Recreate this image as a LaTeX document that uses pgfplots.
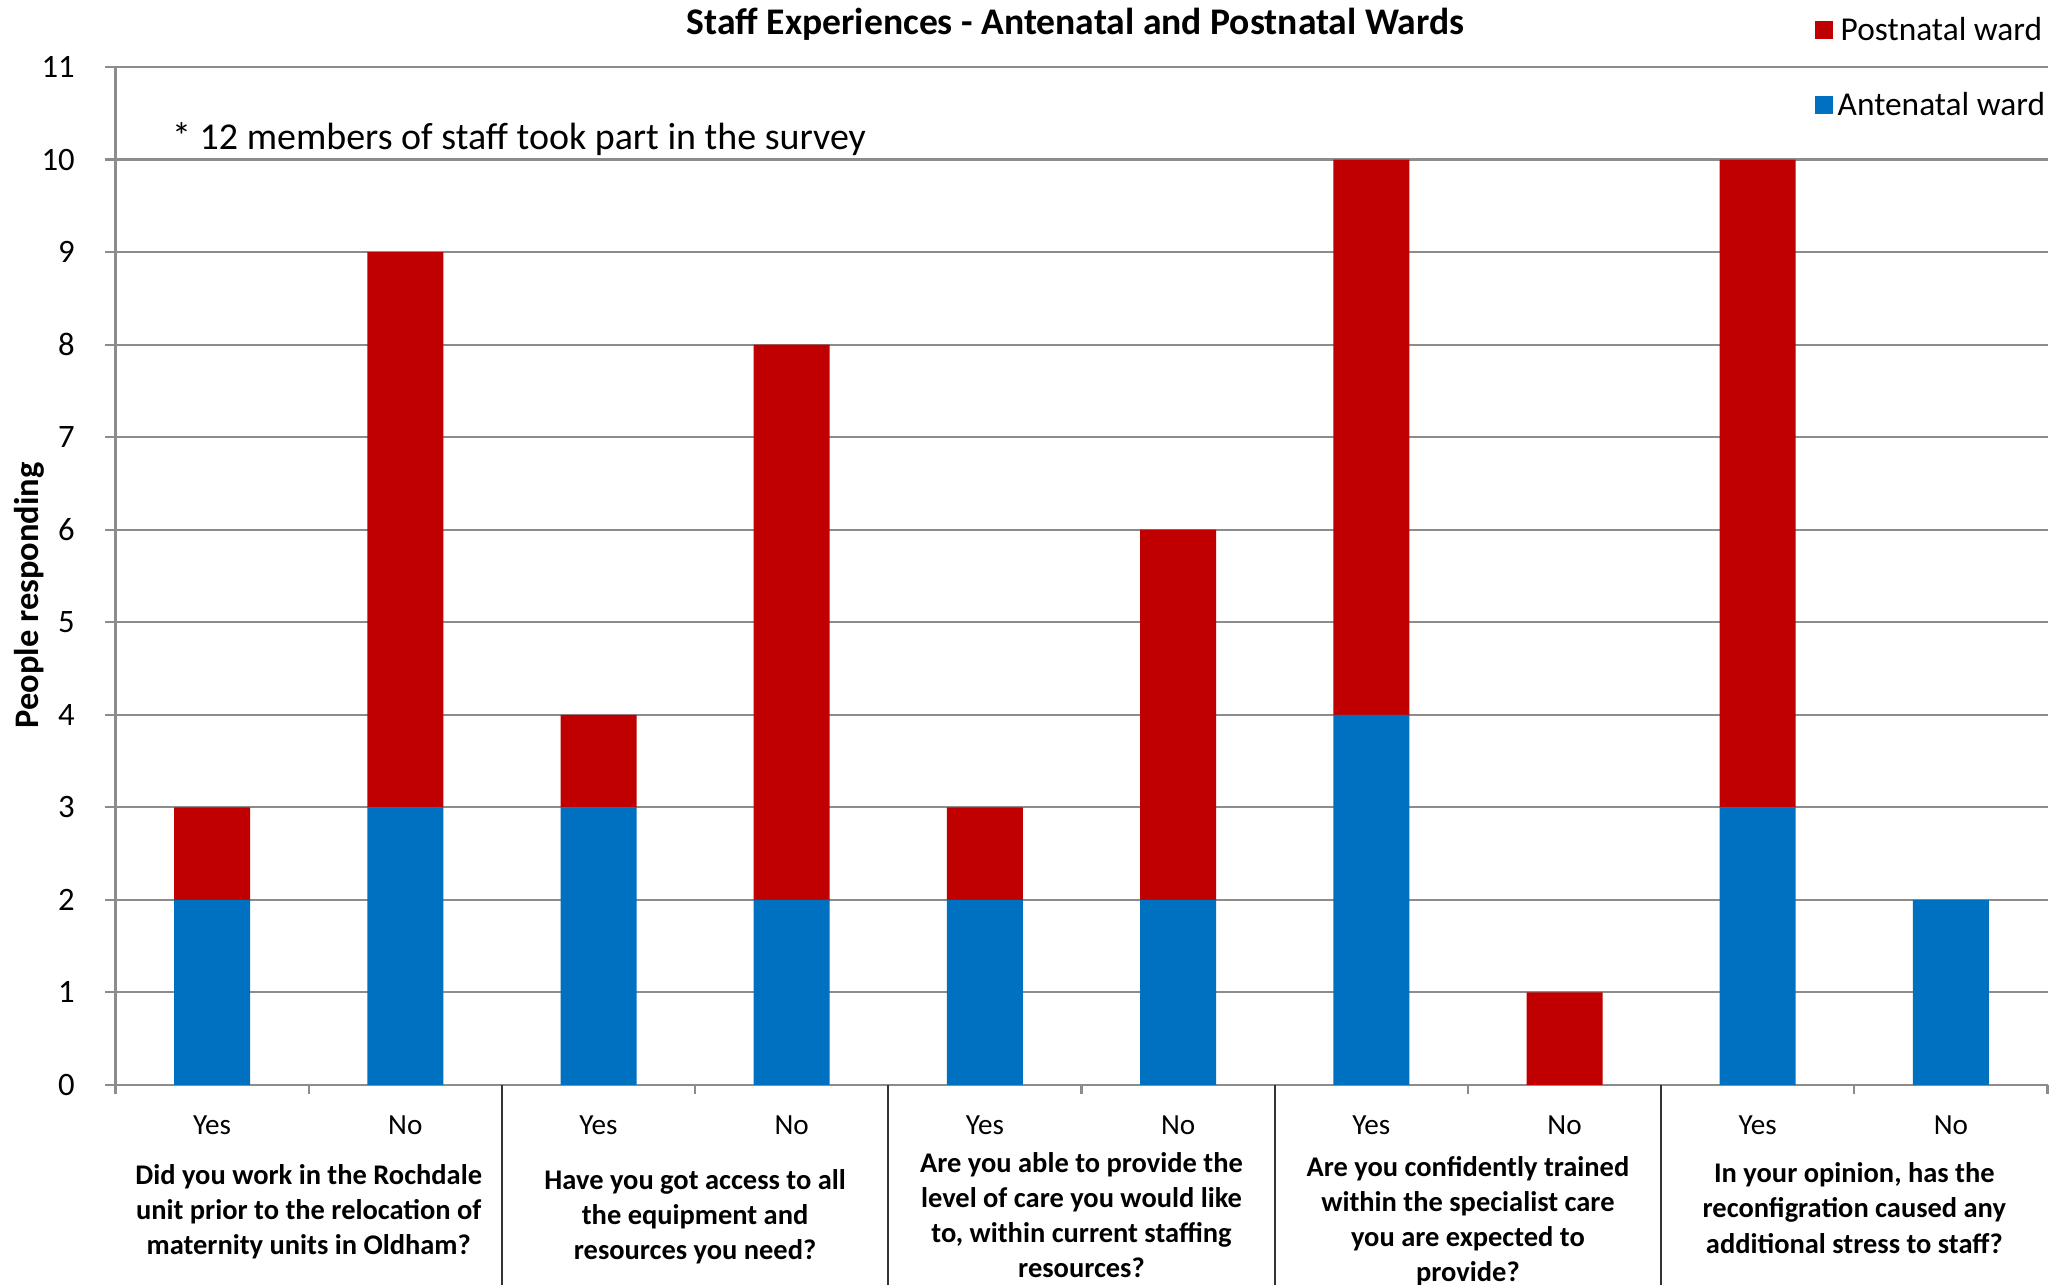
\documentclass[border=0pt]{standalone}
\usepackage{pgfplots}
\pgfplotsset{compat=1.18}
\usepackage{fontspec}
\setmainfont{Carlito}
\definecolor{postred}{HTML}{C00000}
\definecolor{anteblue}{HTML}{0070C0}
\definecolor{gridgray}{HTML}{8C8C8C}
\begin{document}
\begin{tikzpicture}
\useasboundingbox (-11.55mm,-20mm) rectangle (194.15mm,108.5mm);
\begin{axis}[
  at={(0,0)}, anchor=south west,
  scale only axis, width=193.2mm, height=101.8mm,
  ybar stacked, bar width=7.6mm,
  xmin=-0.5, xmax=9.5, ymin=0, ymax=11,
  ytick={0,...,11},
  xtick={0,...,9},
  xticklabels={Yes,No,Yes,No,Yes,No,Yes,No,Yes,No},
  minor xtick={-0.5,0.5,2.5,4.5,6.5,8.5,9.5},
  ymajorgrids, grid style={gridgray, line width=0.6pt},
  axis x line*=bottom, axis y line*=left,
  axis line style={gridgray, line width=0.6pt},
  tick align=outside,
  major tick length=1mm, minor tick length=0.9mm,
  major x tick style={draw=none},
  minor x tick style={gridgray, line width=0.6pt},
  major y tick style={gridgray, line width=0.6pt},
  /pgf/number format/assume math mode=true,
  yticklabel style={font=\fontsize{9.3}{10}\selectfont, anchor=east, inner sep=0pt, xshift=-3mm},
  xticklabel style={font=\fontsize{8.3}{10}\selectfont, anchor=center, inner sep=0pt, yshift=-3.0mm},
  ylabel={People responding},
  ylabel style={font=\bfseries\fontsize{9.8}{11}\selectfont, at={(axis description cs:-0.0448,0.481)}, anchor=center},
  clip=false,
  reverse legend,
  legend style={at={(axis description cs:0.8795,1.0586)}, anchor=north west, draw=none, fill=none,
    inner sep=0pt, outer sep=0pt, row sep=2.96mm, column sep=0pt,
    font=\fontsize{9.5}{11}\selectfont,
    nodes={inner sep=0.5mm, text height=0.8em, text depth=0.2em},
    cells={inner xsep=0.8mm}},
  legend image code/.code={\fill[#1,draw=none] (0mm,-0.9mm) rectangle (1.8mm,0.9mm);},
]
\addplot[fill=anteblue, draw=none] coordinates {(0,2) (1,3) (2,3) (3,2) (4,2) (5,2) (6,4) (7,0) (8,3) (9,2)};
\addplot[fill=postred, draw=none] coordinates {(0,1) (1,6) (2,1) (3,6) (4,1) (5,4) (6,6) (7,1) (8,7) (9,0)};
\legend{Antenatal ward, Postnatal ward}

\node[anchor=center, inner sep=0pt, font=\bfseries\fontsize{10.7}{12}\selectfont] at (axis description cs:0.497,1.0422) {Staff Experiences - Antenatal and Postnatal Wards};

\node[anchor=west, inner sep=0pt, font=\fontsize{10.8}{12}\selectfont] at (axis cs:-0.21,10.22) {* 12 members of staff took part in the survey};

\draw[black!80, line width=0.6pt] (axis cs:1.5,0) -- ++(0mm,-20mm);
\draw[black!80, line width=0.6pt] (axis cs:3.5,0) -- ++(0mm,-20mm);
\draw[black!80, line width=0.6pt] (axis cs:5.5,0) -- ++(0mm,-20mm);
\draw[black!80, line width=0.6pt] (axis cs:7.5,0) -- ++(0mm,-20mm);

\node[align=center, inner sep=0pt, font=\bfseries\fontsize{8.1}{10}\selectfont] at ([yshift=-12.7mm]axis cs:0.5,0) {Did you work in the Rochdale\\unit prior to the relocation of\\maternity units in Oldham?};
\node[align=center, inner sep=0pt, font=\bfseries\fontsize{8.1}{10}\selectfont] at ([yshift=-13.2mm]axis cs:2.5,0) {Have you got access to all\\the equipment and\\resources you need?};
\node[align=center, inner sep=0pt, font=\bfseries\fontsize{8.1}{10}\selectfont] at ([yshift=-13.0mm]axis cs:4.5,0) {Are you able to provide the\\level of care you would like\\to, within current staffing\\resources?};
\node[align=center, inner sep=0pt, font=\bfseries\fontsize{8.1}{10}\selectfont] at ([yshift=-13.6mm]axis cs:6.5,0) {Are you confidently trained\\within the specialist care\\you are expected to\\provide?};
\node[align=center, inner sep=0pt, font=\bfseries\fontsize{8.1}{10}\selectfont] at ([yshift=-12.3mm]axis cs:8.5,0) {In your opinion, has the\\reconfigration caused any\\additional stress to staff?};
\end{axis}
\end{tikzpicture}
\end{document}
